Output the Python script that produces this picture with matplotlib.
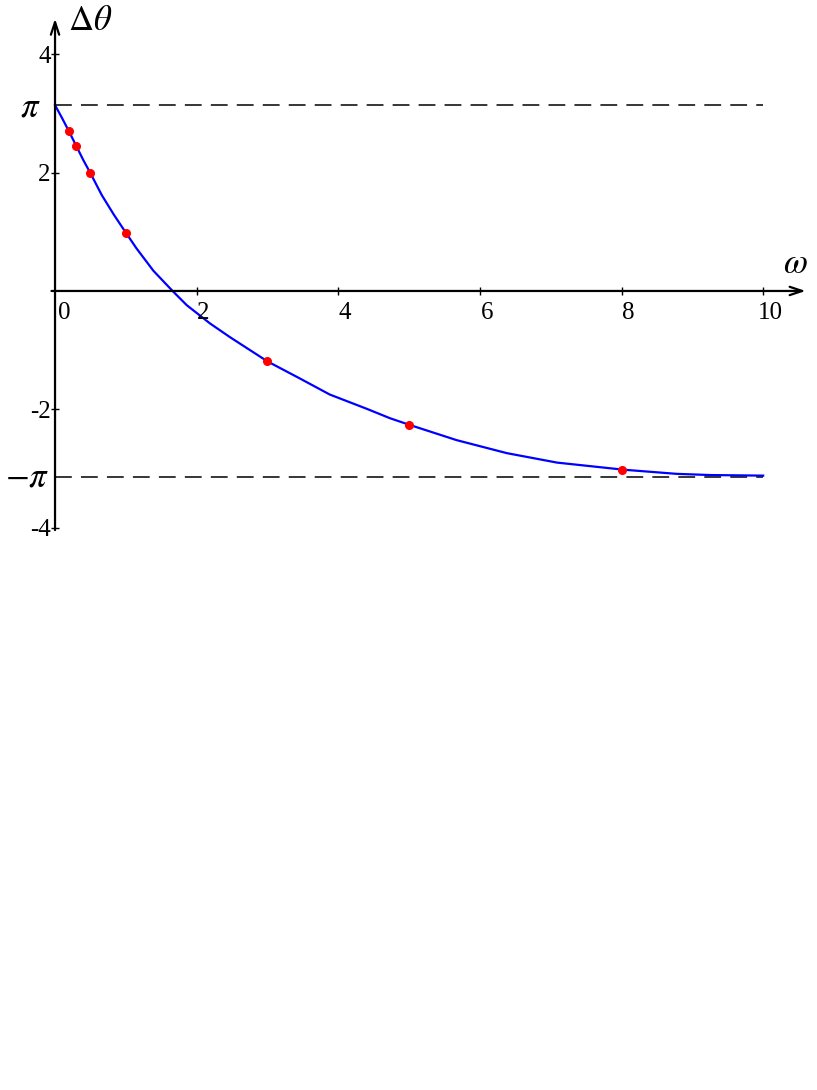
import numpy as np
import matplotlib
matplotlib.use("Agg")
import matplotlib.pyplot as plt

plt.rcParams['font.family'] = ['Liberation Serif', 'DejaVu Serif']
plt.rcParams['mathtext.fontset'] = 'stix'

# curve
w = [0, 0.10, 0.20, 0.30, 0.40, 0.50, 0.66, 0.83, 1.00, 1.15, 1.39, 1.66, 1.86, 2.19,
     2.47, 3.00, 3.46, 3.88, 4.40, 4.73, 5.00, 5.67, 6.38, 7.09, 8.03, 8.78, 9.25, 10.0]
dtheta = [3.14, 2.92, 2.69, 2.45, 2.21, 1.99, 1.62, 1.29, 0.985, 0.72, 0.34, 0.0, -0.24, -0.55,
          -0.78, -1.19, -1.48, -1.75, -1.99, -2.15, -2.26, -2.52, -2.74, -2.90, -3.02, -3.09,
          -3.11, -3.12]

# red points
w_pts = [0.2, 0.3, 0.5, 1, 3, 5, 8]
dtheta_pts = [2.70, 2.45, 1.99, 0.98, -1.19, -2.26, -3.02]

xticks = [2, 4, 6, 8, 10]
xlabels = ['2', '4', '6', '8', '10']
yticks = [4, 2, -2, -4]
ylabels = ['4', '2', '-2', '-4']

fig = plt.figure(figsize=(8.17, 10.90), dpi=100)
ax = fig.add_axes([0, 0, 1, 1])
ax.set_xlim(-0.777, 10.76)
ax.set_ylim(-13.5, 4.916)
ax.axis('off')

# axes with arrows
ax.annotate('', xy=(10.6, 0), xytext=(-0.05, 0),
            arrowprops=dict(arrowstyle='->,head_length=0.9,head_width=0.3', lw=1.6, color='k',
                            shrinkA=0, shrinkB=0))
ax.annotate('', xy=(0, 4.6), xytext=(0, -4.04),
            arrowprops=dict(arrowstyle='->,head_length=0.9,head_width=0.3', lw=1.6, color='k',
                            shrinkA=0, shrinkB=0))

# ticks
ax.plot(xticks, [0]*len(xticks), ls='none', marker='|', ms=6, mew=1.0, color='k')
ax.plot([0]*len(yticks), yticks, ls='none', marker='_', ms=6, mew=1.0, color='k')

for t, s in zip(xticks, xlabels):
    ax.annotate(s, (t, 0), xytext=(5, -16), textcoords='offset points',
                ha='center', va='center', fontsize=18)
ax.annotate('0', (0, 0), xytext=(7, -16), textcoords='offset points',
            ha='center', va='center', fontsize=18)
for t, s in zip(yticks, ylabels):
    ax.annotate(s, (0, t), xytext=(-3, -2), textcoords='offset points',
                ha='right', va='center', fontsize=18)

# asymptotes
ax.plot([0, 10], [np.pi, np.pi], color='k', lw=1.1, dashes=(11, 6))
ax.plot([0, 10], [-np.pi, -np.pi], color='k', lw=1.1, dashes=(11, 6))
ax.annotate(r'$\pi$', (0, np.pi), xytext=(-18, -2), textcoords='offset points',
            ha='center', va='center', fontsize=25)
ax.annotate(r'$-\pi$', (0, -np.pi), xytext=(-20, -1), textcoords='offset points',
            ha='center', va='center', fontsize=25)

ax.plot(w, dtheta, color='#0000ff', lw=1.6)
ax.plot(w_pts, dtheta_pts, ls='none', marker='o', ms=5.5, color='#ff0000')

ax.annotate(r'$\Delta\theta$', (0, 4.6), xytext=(9, 10), textcoords='offset points',
            ha='left', va='top', fontsize=25)
ax.annotate(r'$\omega$', (10.6, 0), xytext=(-16, 7), textcoords='offset points',
            ha='left', va='bottom', fontsize=25)

fig.savefig('out.png', dpi=100)
